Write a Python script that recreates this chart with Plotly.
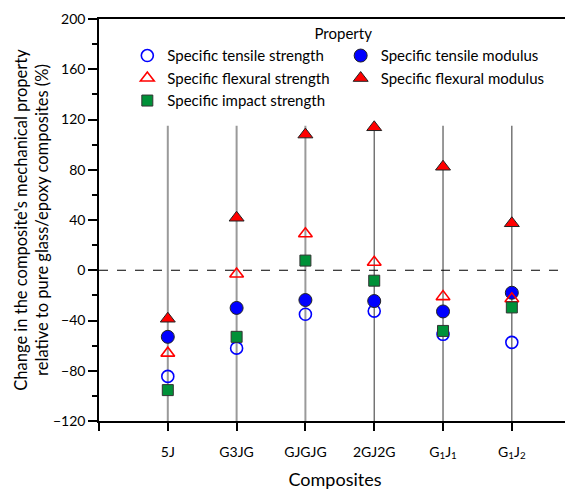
import plotly.graph_objects as go

composites = ["5J", "G3JG", "GJGJG", "2GJ2G", "G<sub>1</sub>J<sub>1</sub>", "G<sub>1</sub>J<sub>2</sub>"]
positions = [1, 2, 3, 4, 5, 6]

tensile_strength = [-84.5, -62, -35, -32.5, -51, -57.4]
tensile_modulus = [-53, -30, -23.7, -24.5, -32.8, -17.9]
flexural_strength = [-66, -3, 29, 6.4, -21, -22.7]
flexural_modulus = [-38.6, 41.8, 108, 113.8, 82.4, 37.4]
impact_strength = [-95.4, -53, 7.7, -8.3, -48.3, -29.6]

drop_line_top = 115
drop_line_bottom = -120

FONT = "Lato, 'Open Sans', sans-serif"

fig = go.Figure()

# vertical guide lines at each composite
for i, xp in enumerate(positions):
    fig.add_trace(go.Scatter(
        x=[xp, xp], y=[drop_line_top, drop_line_bottom], mode="lines",
        line=dict(color="#9a9a9a" if i < 3 else "#555555", width=2 if i < 3 else 1.2),
        showlegend=False, hoverinfo="skip"))

# zero reference line
fig.add_trace(go.Scatter(x=[0, 6.86], y=[0, 0], mode="lines",
                         line=dict(color="black", width=1.2, dash="dash"),
                         showlegend=False, hoverinfo="skip"))

series = [
    ("Specific tensile strength", tensile_strength, dict(symbol="circle-open", color="#0000ff", size=12, line=dict(width=1.6, color="#0000ff"))),
    ("Specific tensile modulus", tensile_modulus, dict(symbol="circle", color="#0000ff", size=13, line=dict(width=1, color="#222222"))),
    ("Specific flexural strength", flexural_strength, dict(symbol="triangle-up-open", color="#ff0000", size=12, line=dict(width=1.6, color="#ff0000"))),
    ("Specific flexural modulus", flexural_modulus, dict(symbol="triangle-up", color="#ff0000", size=13, line=dict(width=1, color="#222222"))),
    ("Specific impact strength", impact_strength, dict(symbol="square", color="#009138", size=11, line=dict(width=1, color="#333333"))),
]

for name, vals, mk in series:
    fig.add_trace(go.Scatter(x=positions, y=vals, mode="markers", name=name, marker=mk))

fig.update_layout(
    width=565, height=482,
    margin=dict(l=91, r=2, t=11, b=69),
    plot_bgcolor="white", paper_bgcolor="white",
    font=dict(family=FONT, size=14, color="black"),
    legend=dict(
        orientation="h", x=0.06, y=0.998, xanchor="left", yanchor="top",
        entrywidth=0.452, entrywidthmode="fraction",
        title=dict(text="Property", side="top center", font=dict(size=15)),
        font=dict(size=15), bgcolor="rgba(0,0,0,0)", traceorder="normal",
    ),
    xaxis=dict(
        range=[0, 6.86], tickvals=[0] + positions, ticktext=[""] + composites,
        showline=True, linecolor="black", linewidth=1.5, mirror=True,
        ticks="outside", ticklen=8, tickwidth=1.5, tickcolor="black",
        showgrid=False, zeroline=False, ticklabelstandoff=9, automargin=False,
        title=dict(text="Composites", font=dict(size=18), standoff=15),
        tickfont=dict(size=14),
    ),
    yaxis=dict(
        range=[-120, 200], tickvals=[-120, -80, -40, 0, 40, 80, 120, 160, 200],
        showline=True, linecolor="black", linewidth=1.5, automargin=False,
        ticks="outside", ticklen=9, tickwidth=1.5, tickcolor="black",
        minor=dict(tickvals=[-100, -60, -20, 20, 60, 100, 140, 180], ticks="outside", ticklen=5, tickwidth=1.5, tickcolor="black"),
        showgrid=False, zeroline=False,
        title=dict(text="Change in the composite's mechanical property<br>relative to pure glass/epoxy composites (%)", font=dict(size=16.5), standoff=0),
        tickfont=dict(size=14),
    ),
)

fig.write_html("out.html")
